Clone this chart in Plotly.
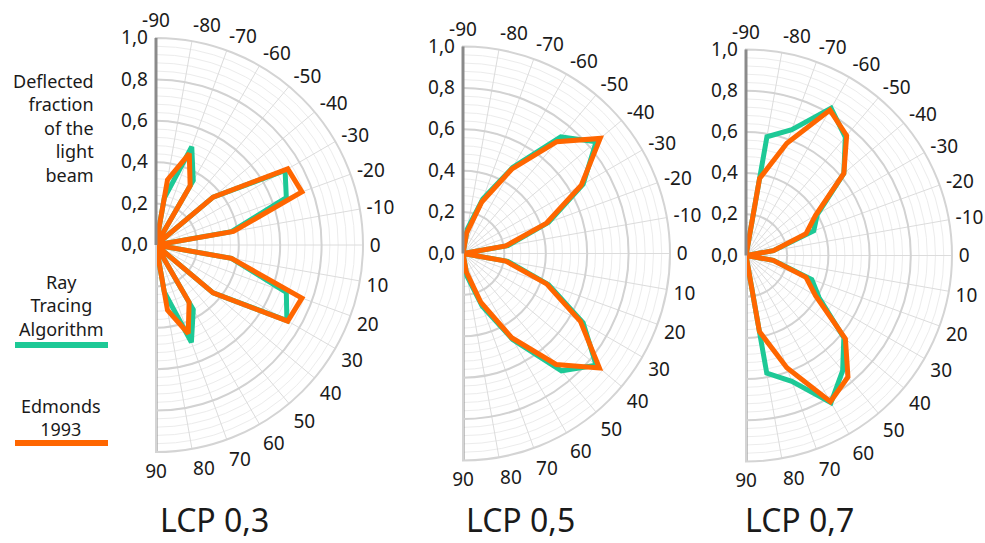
import plotly.graph_objects as go

# ---------------- data ----------------
angles = [-90, -80, -70, -60, -50, -40, -30, -20, -10, 0, 10, 20, 30, 40, 50, 60, 70, 80, 90]
angle_ticks = list(range(-90, 91, 10))
angle_ticktext = [str(a) for a in angle_ticks]
radial_ticks = [0.0, 0.2, 0.4, 0.6, 0.8, 1.0]

panel_titles = ["LCP 0,3", "LCP 0,5", "LCP 0,7"]
series_names = ["Ray Tracing Algorithm", "Edmonds 1993"]

ray_lcp03 = [0, 0.23, 0.505, 0.36, 0, 0.36, 0.72, 0.67, 0.37, 0, 0.37, 0.67, 0.73, 0.36, 0, 0.36, 0.50, 0.23, 0]
edm_lcp03 = [0, 0.32, 0.47, 0.33, 0, 0.36, 0.735, 0.75, 0.38, 0, 0.37, 0.75, 0.735, 0.36, 0, 0.32, 0.455, 0.32, 0]

ray_lcp05 = [0, 0.12, 0.28, 0.48, 0.735, 0.84, 0.67, 0.44, 0.22, 0, 0.22, 0.44, 0.67, 0.84, 0.74, 0.48, 0.27, 0.11, 0]
edm_lcp05 = [0, 0.10, 0.265, 0.47, 0.705, 0.865, 0.66, 0.43, 0.21, 0, 0.21, 0.43, 0.655, 0.86, 0.70, 0.47, 0.25, 0.09, 0]

ray_lcp07 = [0, 0.585, 0.65, 0.826, 0.75, 0.62, 0.40, 0.35, 0.135, 0, 0.135, 0.34, 0.41, 0.62, 0.73, 0.825, 0.65, 0.58, 0]
edm_lcp07 = [0, 0.38, 0.58, 0.815, 0.76, 0.62, 0.39, 0.31, 0.135, 0, 0.134, 0.31, 0.39, 0.63, 0.77, 0.82, 0.58, 0.375, 0]

ray_series = [ray_lcp03, ray_lcp05, ray_lcp07]
edm_series = [edm_lcp03, edm_lcp05, edm_lcp07]

# ---------------- style ----------------
W, H = 985, 543
FONT = "Noto Sans"
GREEN = "#1DC996"
ORANGE = "#FF6600"
AXIS_GREY = "#8a8a8a"
TXT = "#1a1a1a"
TICK_SIZE = 19

# panel geometry (pixels): center x, center y, radius
panels_px = [(156, 245, 207), (463, 253.5, 207), (746, 255.5, 206)]
title_x_px = [214, 520, 799]

fig = go.Figure()
layout = dict(
    width=W, height=H,
    margin=dict(l=0, r=0, t=0, b=0),
    paper_bgcolor="white",
    plot_bgcolor="white",
    showlegend=False,
    separators=",.",
    font=dict(family=FONT, color=TXT, size=17),
)

annotations = []
for i, (cx, cy, R) in enumerate(panels_px):
    dom = dict(x=[cx / W, (cx + R) / W], y=[1 - (cy + R) / H, 1 - (cy - R) / H])
    minor_id = "polar" if i == 0 else f"polar{2 * i + 1}"
    data_id = f"polar{2 * i + 2}"

    # minor-grid underlay
    layout[minor_id] = dict(
        domain=dom,
        sector=[-90, 90],
        bgcolor="white",
        radialaxis=dict(range=[0, 1], dtick=0.04, tick0=0, showgrid=True, gridcolor="#ececec",
                        gridwidth=1, showticklabels=False, ticks="", showline=False, angle=90),
        angularaxis=dict(direction="clockwise", rotation=0, showgrid=False, showticklabels=False,
                         ticks="", showline=False, tickvals=angle_ticks),
    )
    # data layer with major grid and labels
    layout[data_id] = dict(
        domain=dom,
        sector=[-90, 90],
        bgcolor="rgba(0,0,0,0)",
        radialaxis=dict(range=[0, 1], tickvals=radial_ticks, tickformat=".1f",
                        showgrid=True, gridcolor="#d2d2d2", gridwidth=1.5,
                        showline=True, linecolor=AXIS_GREY, linewidth=3,
                        ticks="", angle=90, side="counterclockwise", tickangle=90,
                        tickfont=dict(size=TICK_SIZE, family=FONT, color=TXT)),
        angularaxis=dict(direction="clockwise", rotation=0, tickmode="array",
                         tickvals=angle_ticks, ticktext=angle_ticktext,
                         showgrid=True, gridcolor="#dcdcdc", gridwidth=1,
                         showline=True, linecolor="#d4d4d4", linewidth=2,
                         ticks="outside", ticklen=2, tickcolor="rgba(0,0,0,0)",
                         tickfont=dict(size=TICK_SIZE, family=FONT, color=TXT)),
    )

    # lower half of the straight axis edge
    fig.add_trace(go.Scatterpolar(r=[0, 1], theta=[90, 90], mode="lines",
                                  line=dict(color=AXIS_GREY, width=3),
                                  subplot=minor_id, hoverinfo="skip", showlegend=False))

    fig.add_trace(go.Scatterpolar(r=ray_series[i], theta=angles, mode="lines",
                                  line=dict(color=GREEN, width=5), name=series_names[0],
                                  subplot=data_id, showlegend=False))
    fig.add_trace(go.Scatterpolar(r=edm_series[i], theta=angles, mode="lines",
                                  line=dict(color=ORANGE, width=5), name=series_names[1],
                                  subplot=data_id, showlegend=False))

    annotations.append(dict(text=panel_titles[i], x=title_x_px[i] / W, y=1 - 519 / H,
                            xref="paper", yref="paper", xanchor="center", yanchor="middle",
                            showarrow=False, font=dict(size=32, family=FONT, color=TXT)))

annotations += [
    dict(text="Deflected<br>fraction<br>of the<br>light<br>beam", x=96 / W, y=1 - 67 / H,
         xref="paper", yref="paper", xanchor="right", yanchor="top", align="right",
         showarrow=False, font=dict(size=18, family=FONT, color=TXT)),
    dict(text="Ray<br>Tracing<br>Algorithm", x=61 / W, y=1 - 268 / H,
         xref="paper", yref="paper", xanchor="center", yanchor="top", align="center",
         showarrow=False, font=dict(size=18, family=FONT, color=TXT)),
    dict(text="Edmonds<br>1993", x=61 / W, y=1 - 392 / H,
         xref="paper", yref="paper", xanchor="center", yanchor="top", align="center",
         showarrow=False, font=dict(size=18, family=FONT, color=TXT)),
]
layout["annotations"] = annotations
layout["shapes"] = [
    dict(type="rect", xref="paper", yref="paper", x0=15 / W, x1=108 / W,
         y0=1 - 348 / H, y1=1 - 342 / H, fillcolor=GREEN, line=dict(width=0)),
    dict(type="rect", xref="paper", yref="paper", x0=15 / W, x1=108 / W,
         y0=1 - 446 / H, y1=1 - 440 / H, fillcolor=ORANGE, line=dict(width=0)),
]

fig.update_layout(**layout)
fig.write_html("out.html")
